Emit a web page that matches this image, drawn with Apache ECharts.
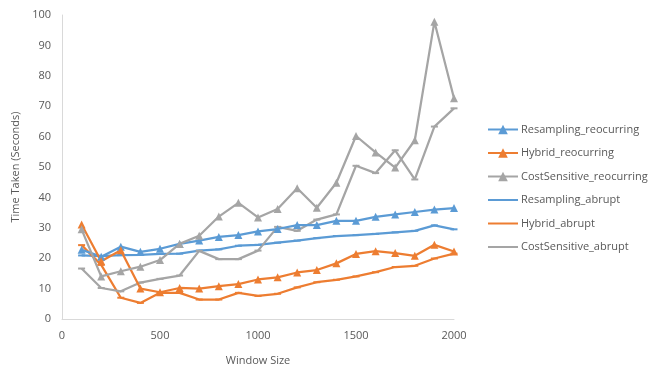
<!DOCTYPE html>
<html>
<head>
<meta charset="utf-8">
<script src="https://cdn.jsdelivr.net/npm/echarts@6/dist/echarts.min.js"></script>
<style>
  html, body { margin: 0; padding: 0; background: #ffffff; }
  #chart { width: 669px; height: 371px; }
</style>
</head>
<body>
<div id="chart"></div>
<script>
// Window sizes (x values)
const windowSizes = [100, 200, 300, 400, 500, 600, 700, 800, 900, 1000,
                     1100, 1200, 1300, 1400, 1500, 1600, 1700, 1800, 1900, 2000];

// Time taken (seconds) per method and drift type
const resamplingReocurring = [22.8, 20.5, 23.8, 22.1, 23.1, 24.7, 25.8, 27.0, 27.6, 28.8,
                              29.6, 30.9, 30.9, 32.3, 32.3, 33.6, 34.4, 35.2, 36.0, 36.5];
const hybridReocurring = [31.1, 19.0, 22.6, 10.0, 8.8, 10.2, 10.0, 10.8, 11.5, 13.0,
                          13.7, 15.3, 16.1, 18.3, 21.4, 22.3, 21.7, 20.8, 24.4, 22.2];
const costSensitiveReocurring = [29.5, 14.0, 15.7, 17.2, 19.4, 24.7, 27.4, 33.7, 38.2, 33.4,
                                 36.2, 43.0, 36.6, 44.8, 60.2, 54.8, 49.8, 58.8, 97.8, 72.6];
const resamplingAbrupt = [20.9, 20.7, 21.0, 21.1, 21.4, 21.5, 22.5, 22.9, 24.1, 24.4,
                          25.1, 25.8, 26.6, 27.3, 27.6, 28.0, 28.5, 29.0, 30.8, 29.5];
const hybridAbrupt = [24.3, 17.8, 7.0, 5.3, 8.6, 8.6, 6.4, 6.4, 8.6, 7.6,
                      8.3, 10.4, 12.1, 12.9, 14.0, 15.4, 17.1, 17.5, 19.9, 21.5];
const costSensitiveAbrupt = [16.6, 10.2, 9.1, 12.0, 13.2, 14.3, 22.4, 19.7, 19.7, 22.5,
                             30.3, 29.0, 32.7, 34.4, 50.4, 48.0, 55.5, 45.9, 63.3, 69.3];

const xTicks = [0, 500, 1000, 1500, 2000];

const BLUE = '#5B9BD5';
const ORANGE = '#ED7D31';
const GRAY = '#A5A5A5';
const TEXT = '#595959';
const AXIS = '#D9D9D9';
const FONT = '"Open Sans", "Liberation Sans", sans-serif';

function pairs(values) {
  return windowSizes.map((x, i) => [x, values[i]]);
}

function markerSeries(name, values, color) {
  return {
    name: name,
    type: 'line',
    data: pairs(values),
    symbol: 'triangle',
    symbolSize: 8,
    showAllSymbol: true,
    lineStyle: { color: color, width: 2.25 },
    itemStyle: { color: color },
    emphasis: { disabled: true },
    z: 3
  };
}

function dashSeries(name, values, color) {
  return {
    name: name,
    type: 'line',
    data: pairs(values),
    symbol: 'rect',
    symbolSize: [7, 2],
    showAllSymbol: true,
    lineStyle: { color: color, width: 2.25 },
    itemStyle: { color: color },
    emphasis: { disabled: true },
    z: 2
  };
}

const chart = echarts.init(document.getElementById('chart'), null, { renderer: 'canvas' });

chart.setOption({
  animation: false,
  backgroundColor: '#ffffff',
  textStyle: { fontFamily: FONT },
  grid: { left: 62, right: 215, top: 15, bottom: 46, containLabel: false },
  legend: {
    orient: 'vertical',
    left: 487,
    top: 124,
    padding: 0,
    itemWidth: 30,
    itemHeight: 12,
    itemGap: 12.5,
    textStyle: { color: TEXT, fontSize: 11, fontFamily: FONT, padding: [0, 0, 0, -2] },
    data: [
      { name: 'Resampling_reocurring' },
      { name: 'Hybrid_reocurring' },
      { name: 'CostSensitive_reocurring' },
      // abrupt series show a plain line in the legend
      { name: 'Resampling_abrupt', itemStyle: { opacity: 0 } },
      { name: 'Hybrid_abrupt', itemStyle: { opacity: 0 } },
      { name: 'CostSensitive_abrupt', itemStyle: { opacity: 0 } }
    ]
  },
  xAxis: {
    type: 'value',
    min: xTicks[0],
    max: xTicks[xTicks.length - 1],
    interval: xTicks[1] - xTicks[0],
    name: 'Window Size',
    nameLocation: 'middle',
    nameGap: 36,
    nameTextStyle: { color: TEXT, fontSize: 11 },
    axisLine: { show: true, lineStyle: { color: AXIS, width: 1 } },
    axisTick: { show: false },
    splitLine: { show: false },
    axisLabel: { color: TEXT, fontSize: 11, margin: 11, formatter: v => String(v) }
  },
  yAxis: {
    type: 'value',
    min: 0,
    max: 100,
    interval: 10,
    name: 'Time Taken (Seconds)',
    nameLocation: 'middle',
    nameGap: 35,
    nameTextStyle: { color: TEXT, fontSize: 11 },
    axisLine: { show: true, lineStyle: { color: AXIS, width: 1 } },
    axisTick: { show: false },
    splitLine: { show: false },
    axisLabel: { color: TEXT, fontSize: 11, margin: 11, formatter: v => String(v) }
  },
  series: [
    markerSeries('Resampling_reocurring', resamplingReocurring, BLUE),
    markerSeries('Hybrid_reocurring', hybridReocurring, ORANGE),
    markerSeries('CostSensitive_reocurring', costSensitiveReocurring, GRAY),
    dashSeries('Resampling_abrupt', resamplingAbrupt, BLUE),
    dashSeries('Hybrid_abrupt', hybridAbrupt, ORANGE),
    dashSeries('CostSensitive_abrupt', costSensitiveAbrupt, GRAY)
  ]
});
</script>
</body>
</html>
